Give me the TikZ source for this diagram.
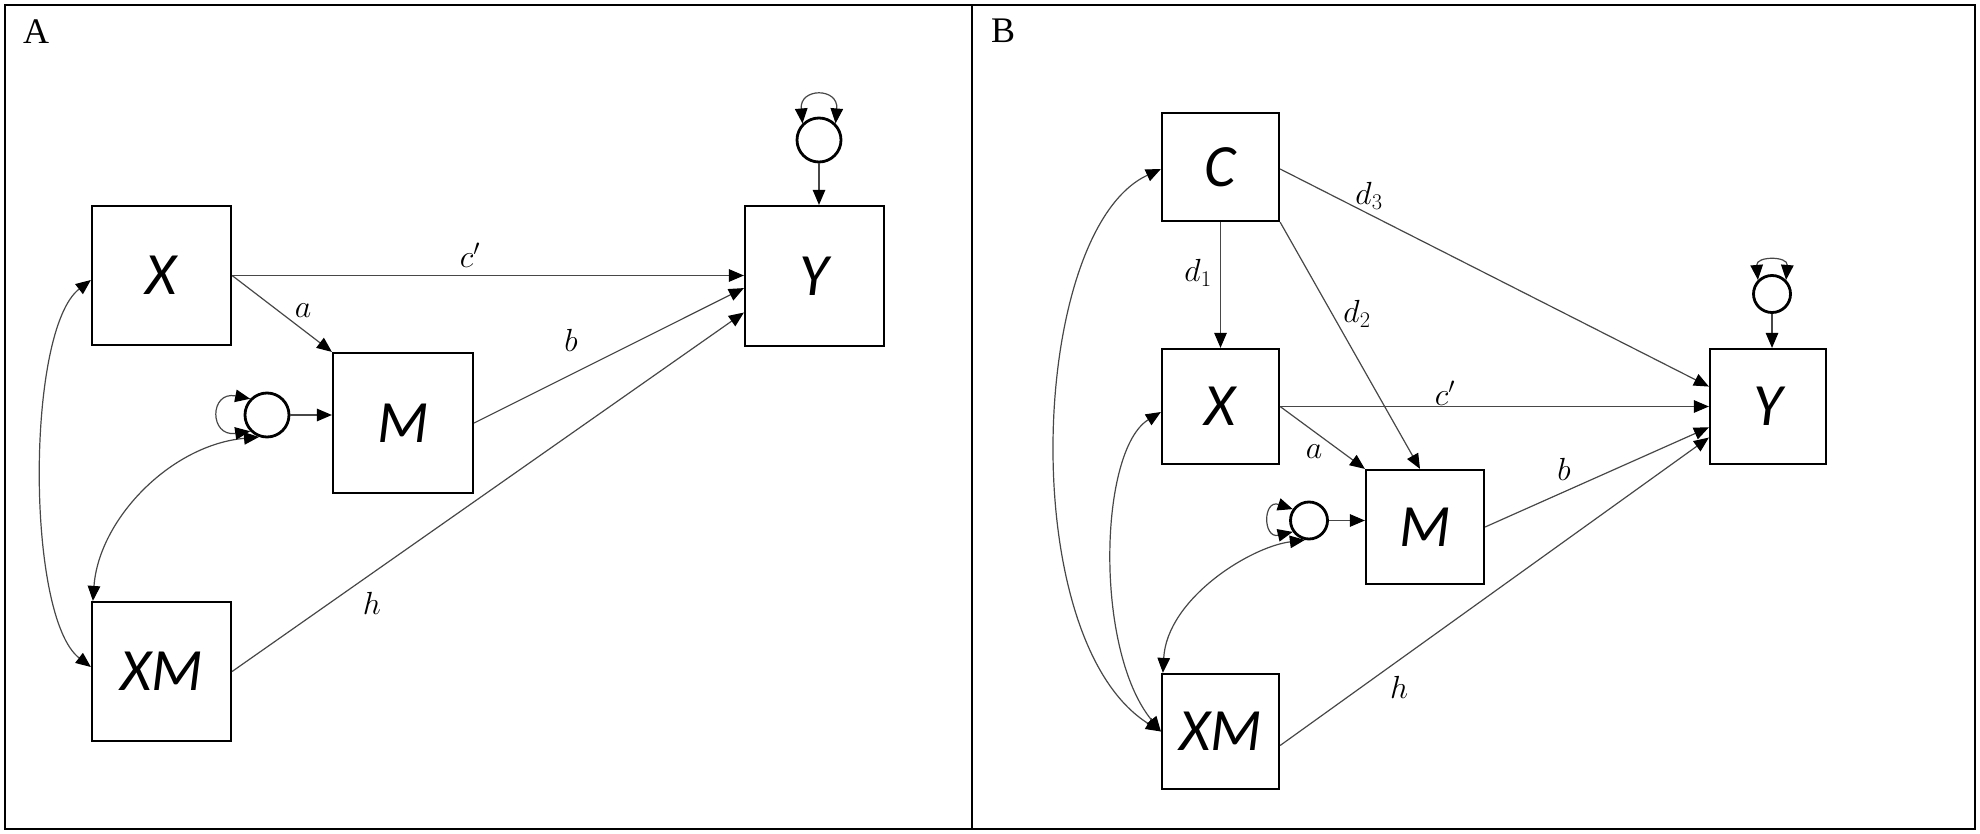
\RequirePackage{fix-cm}
\documentclass[tikz,border=0pt]{standalone}
\usepackage{fontspec}
\newfontfamily\boxfont{Carlito}
\newfontfamily\panelfont{Liberation Serif}
\usetikzlibrary{arrows.meta,calc}
\tikzset{
  tip/.tip={Triangle[length=15pt,width=12.5pt,color=black]},
  var/.style={draw=black, line width=2.2pt, inner sep=0pt, font={\fontsize{60}{62}\boxfont\itshape}},
  err/.style={circle, draw=black, line width=2.8pt, inner sep=0pt},
  conn/.style={draw=black!72, line width=1.2pt, -tip},
  dconn/.style={draw=black!72, line width=1.2pt, tip-tip},
  lab/.style={inner sep=0pt, font={\fontsize{32}{34}\selectfont}},
  panel/.style={inner sep=0pt, font={\fontsize{36}{38}\panelfont}}
}
\begin{document}
\begin{tikzpicture}[x=1pt, y=-1pt]
\useasboundingbox (0,0) rectangle (1980,834);
% frame
\draw[line width=1.8pt] (5,5) rectangle (1975,829);
\draw[line width=1.8pt] (972,5) -- (972,829);
\node[panel] (pA) at (36,32) {A};
\node[panel] (pB) at (1003,31) {B};

% ---------- Panel A ----------
\node[var, minimum width=139pt, minimum height=139pt] (XA) at (161.5,275.5) {X};
\node[var, minimum width=140pt, minimum height=140pt] (MA) at (403,423) {M};
\node[var, minimum width=139pt, minimum height=139pt] (XMA) at (161.5,671.5) {XM};
\node[var, minimum width=139pt, minimum height=140pt] (YA) at (814.5,276) {Y};
\node[err, minimum size=44pt] (eMA) at (267,415) {};
\node[err, minimum size=44pt] (eYA) at (819,140) {};

\draw[conn] (XA.east) -- (XA.east -| YA.west);
\draw[conn] (XA.east) -- (MA.north west);
\draw[conn] (MA.east) -- ($(YA.north west)!0.585!(YA.south west)$);
\draw[conn] (XMA.east) -- ($(YA.north west)!0.757!(YA.south west)$);
\draw[conn] (eMA.east) -- (eMA.east -| MA.west);
\draw[conn] (eYA.south) -- (eYA.south |- YA.north);
\draw[dconn] ([yshift=-4.5pt]XA.west) .. controls +(-65,50) and +(-65,-50) .. ([yshift=4.5pt]XMA.west);
\draw[dconn] (eMA.250) .. controls +(-88,8) and +(6,-82) .. ([xshift=2pt]XMA.north west);
\draw[dconn] (eMA.136) .. controls +(-41,-8) and +(-41,6) .. (eMA.224);
\draw[dconn] (eYA.135) .. controls +(-3,-36) and +(3,-36) .. (eYA.45);

\node[lab] (lcA) at (470,255) {$c'$};
\node[lab] (laA) at (303,311) {$a$};
\node[lab] (lbA) at (571,340) {$b$};
\node[lab] (lhA) at (372,603) {$h$};

% ---------- Panel B ----------
\node[var, minimum width=117pt, minimum height=108pt] (C) at (1220.5,167) {C};
\node[var, minimum width=117pt, minimum height=115pt] (XB) at (1220.5,406.5) {X};
\node[var, minimum width=117pt, minimum height=115pt] (XMB) at (1220.5,731.5) {XM};
\node[var, minimum width=118pt, minimum height=114pt] (MB) at (1425,527) {M};
\node[var, minimum width=116pt, minimum height=115pt] (YB) at (1768,406.5) {Y};
\node[err, minimum size=37pt] (eMB) at (1309,520.5) {};
\node[err, minimum size=37pt] (eYB) at (1772,294) {};

\draw[conn] (C.south) -- (XB.north);
\draw[conn] (C.south east) -- ([xshift=-5pt]MB.north);
\draw[conn] ([yshift=-2pt]C.east) -- ($(YB.north west)!0.33!(YB.south west)$);
\draw[conn] (XB.east) -- (XB.east -| YB.west);
\draw[conn] (XB.east) -- (MB.north west);
\draw[conn] (MB.east) -- ($(YB.north west)!0.678!(YB.south west)$);
\draw[conn] ([yshift=-14pt]XMB.east) -- ($(YB.north west)!0.765!(YB.south west)$);
\draw[conn] (eMB.east) -- (eMB.east -| MB.west);
\draw[conn] (eYB.south) -- (eYB.south |- YB.north);
\draw[dconn] ([yshift=-2pt]C.west) .. controls +(-132,61) and +(-147,-92) .. (XMB.west);
\draw[dconn] ([yshift=-5.5pt]XB.west) .. controls +(-62,38) and +(-67,-82) .. (XMB.west);
\draw[dconn] (eMB.258) .. controls +(-55,7) and +(4,-74) .. ([xshift=2pt]XMB.north west);
\draw[dconn] (eMB.145) .. controls +(-30,-10) and +(-30,7) .. (eMB.215);
\draw[dconn] (eYB.135) .. controls +(-2,-24) and +(2,-24) .. (eYB.45);

\node[lab] (ld1) at (1198,273) {$d_1$};
\node[lab] (ld2) at (1357,314) {$d_2$};
\node[lab] (ld3) at (1369,196) {$d_3$};
\node[lab] (lcB) at (1445,393) {$c'$};
\node[lab] (laB) at (1314,452) {$a$};
\node[lab] (lbB) at (1564,469) {$b$};
\node[lab] (lhB) at (1399,687) {$h$};
\end{tikzpicture}
\end{document}
